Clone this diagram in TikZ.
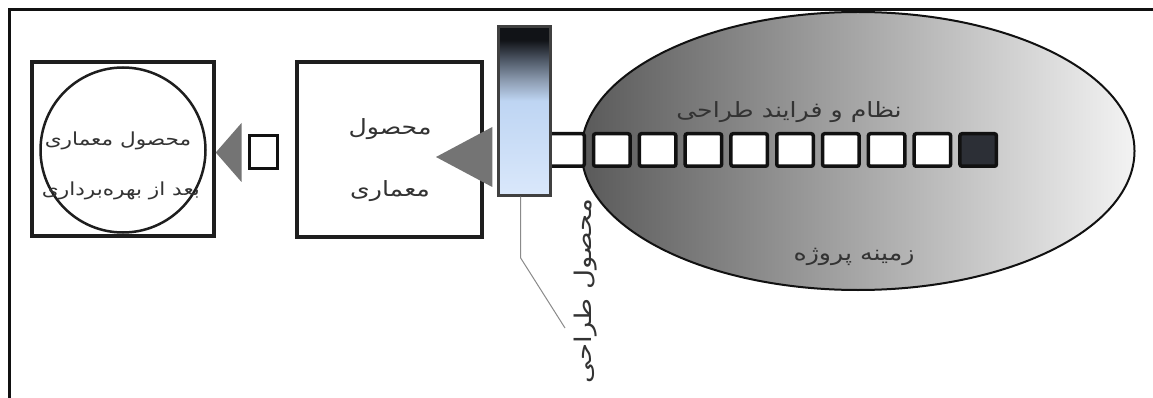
\documentclass[tikz,border=0pt]{standalone}
\usepackage{fontspec}
\usetikzlibrary{shapes.geometric,calc}
\TeXXeTstate=1
\newfontfamily\fa[Script=Arabic, FakeStretch=1.2]{DejaVu Sans}

\definecolor{frameink}{HTML}{111111}
\definecolor{boxline}{HTML}{1E1E1E}
\definecolor{txt}{HTML}{333333}
\definecolor{pointer}{HTML}{747474}
\definecolor{leader}{HTML}{8A8A8A}
\definecolor{ctxleft}{HTML}{5A5A5A}
\definecolor{ctxright}{HTML}{F3F3F3}
\definecolor{celldark}{HTML}{2C2F36}
\definecolor{blA}{HTML}{DAE8FB}
\definecolor{blB}{HTML}{BED5F3}
\definecolor{blC}{HTML}{8D9CB1}
\definecolor{blD}{HTML}{505A68}
\definecolor{blE}{HTML}{111317}

% design-product bar: light blue at the foot, black at the head
\pgfdeclareverticalshading{barshade}{100bp}{%
  color(0bp)=(blA); color(25bp)=(blA); color(53bp)=(blB);
  color(59bp)=(blC); color(65bp)=(blD); color(71bp)=(blE);
  color(100bp)=(blE)}

\tikzset{
  box/.style={draw=boxline, line width=3.5pt, fill=white, inner sep=0pt},
  cell/.style={draw=frameink, line width=3.5pt, fill=white, rounded corners=2pt,
    minimum width=36.5pt, minimum height=32.5pt, inner sep=0pt},
  fatext/.style={text=txt, inner sep=0pt},
  pointerfill/.style={fill=pointer},
}

\begin{document}
\begin{tikzpicture}[x=1pt,y=-1pt]
\useasboundingbox (0,0) rectangle (1153,398);
\fill[white] (0,0) rectangle (1153,398);

% page frame (top and left edges)
\draw[frameink, line width=3pt] (9,398) -- (9,10) -- (1153,10);

% project context
\node[ellipse, draw=frameink, line width=2pt, left color=ctxleft, right color=ctxright,
  minimum width=553pt, minimum height=278pt, inner sep=0pt] (ctx) at (858,151) {};
\node[fatext, font=\fa\fontsize{21}{25}\selectfont, text=txt] (system) at (789,112)
  {\beginR نظام و فرایند طراحی\endR};
\node[fatext, font=\fa\fontsize{21}{25}\selectfont, text=txt] (context) at (854,257)
  {\beginR زمینه پروژه\endR};

% design process track
\foreach \i in {0,...,8}
  \node[cell] (c\i) at ({566+45.8*\i},150) {};
\node[cell, fill=celldark] (c9) at ({566+45.8*9},150) {};

% design product bar
\node[draw=boxline!85, line width=2.5pt, shading=barshade, minimum width=52pt,
  minimum height=169pt, inner sep=0pt] (bar) at (524.5,111) {};

% architectural product
\node[box, minimum width=185pt, minimum height=175pt] (prod) at (389.5,149.5) {};
\node[fatext, font=\fa\fontsize{21}{25}\selectfont] (prodA) at (390,129)
  {\beginR محصول\endR};
\node[fatext, font=\fa\fontsize{21}{25}\selectfont] (prodB) at (390,191)
  {\beginR معماری\endR};

% product after occupancy
\node[box, minimum width=182pt, minimum height=174pt] (post) at (123,149) {};
\node[circle, draw=boxline, line width=2.5pt, minimum size=165pt, inner sep=0pt]
  (postcirc) at (123,150) {};
\node[fatext, font=\fa\fontsize{18}{22}\selectfont] (postA) at (118,141)
  {\beginR محصول معماری\endR};
\node[fatext, font=\fa\fontsize{18}{22}\selectfont] (postB) at (121,191)
  {\beginR بعد از بهره‌برداری\endR};

% small square between the two products
\node[draw=frameink, line width=3pt, fill=white, minimum width=28pt,
  minimum height=33pt, inner sep=0pt] (sq) at (263,152.5) {};

% pointers
\coordinate (midtip) at (436,157);
\fill[pointerfill] (midtip) -- ($(bar.west)+(-5,16)$) -- ($(bar.west)+(-5,76)$) -- cycle;
\fill[pointerfill] (post.east |- sq.center) -- ($(sq.west)+(-6,-29.5)$)
  -- ($(sq.west)+(-6,29.5)$) -- cycle;

% leader to the design-product label
\coordinate (leadend) at (565,328);
\draw[leader, line width=1pt] ($(bar.south)+(-4,0)$) -- ++(0,61) -- (leadend);
\node[fatext, font=\fa\fontsize{23}{27}\selectfont, rotate=90] (design) at (586,291)
  {\beginR محصول طراحی\endR};
\end{tikzpicture}
\end{document}
